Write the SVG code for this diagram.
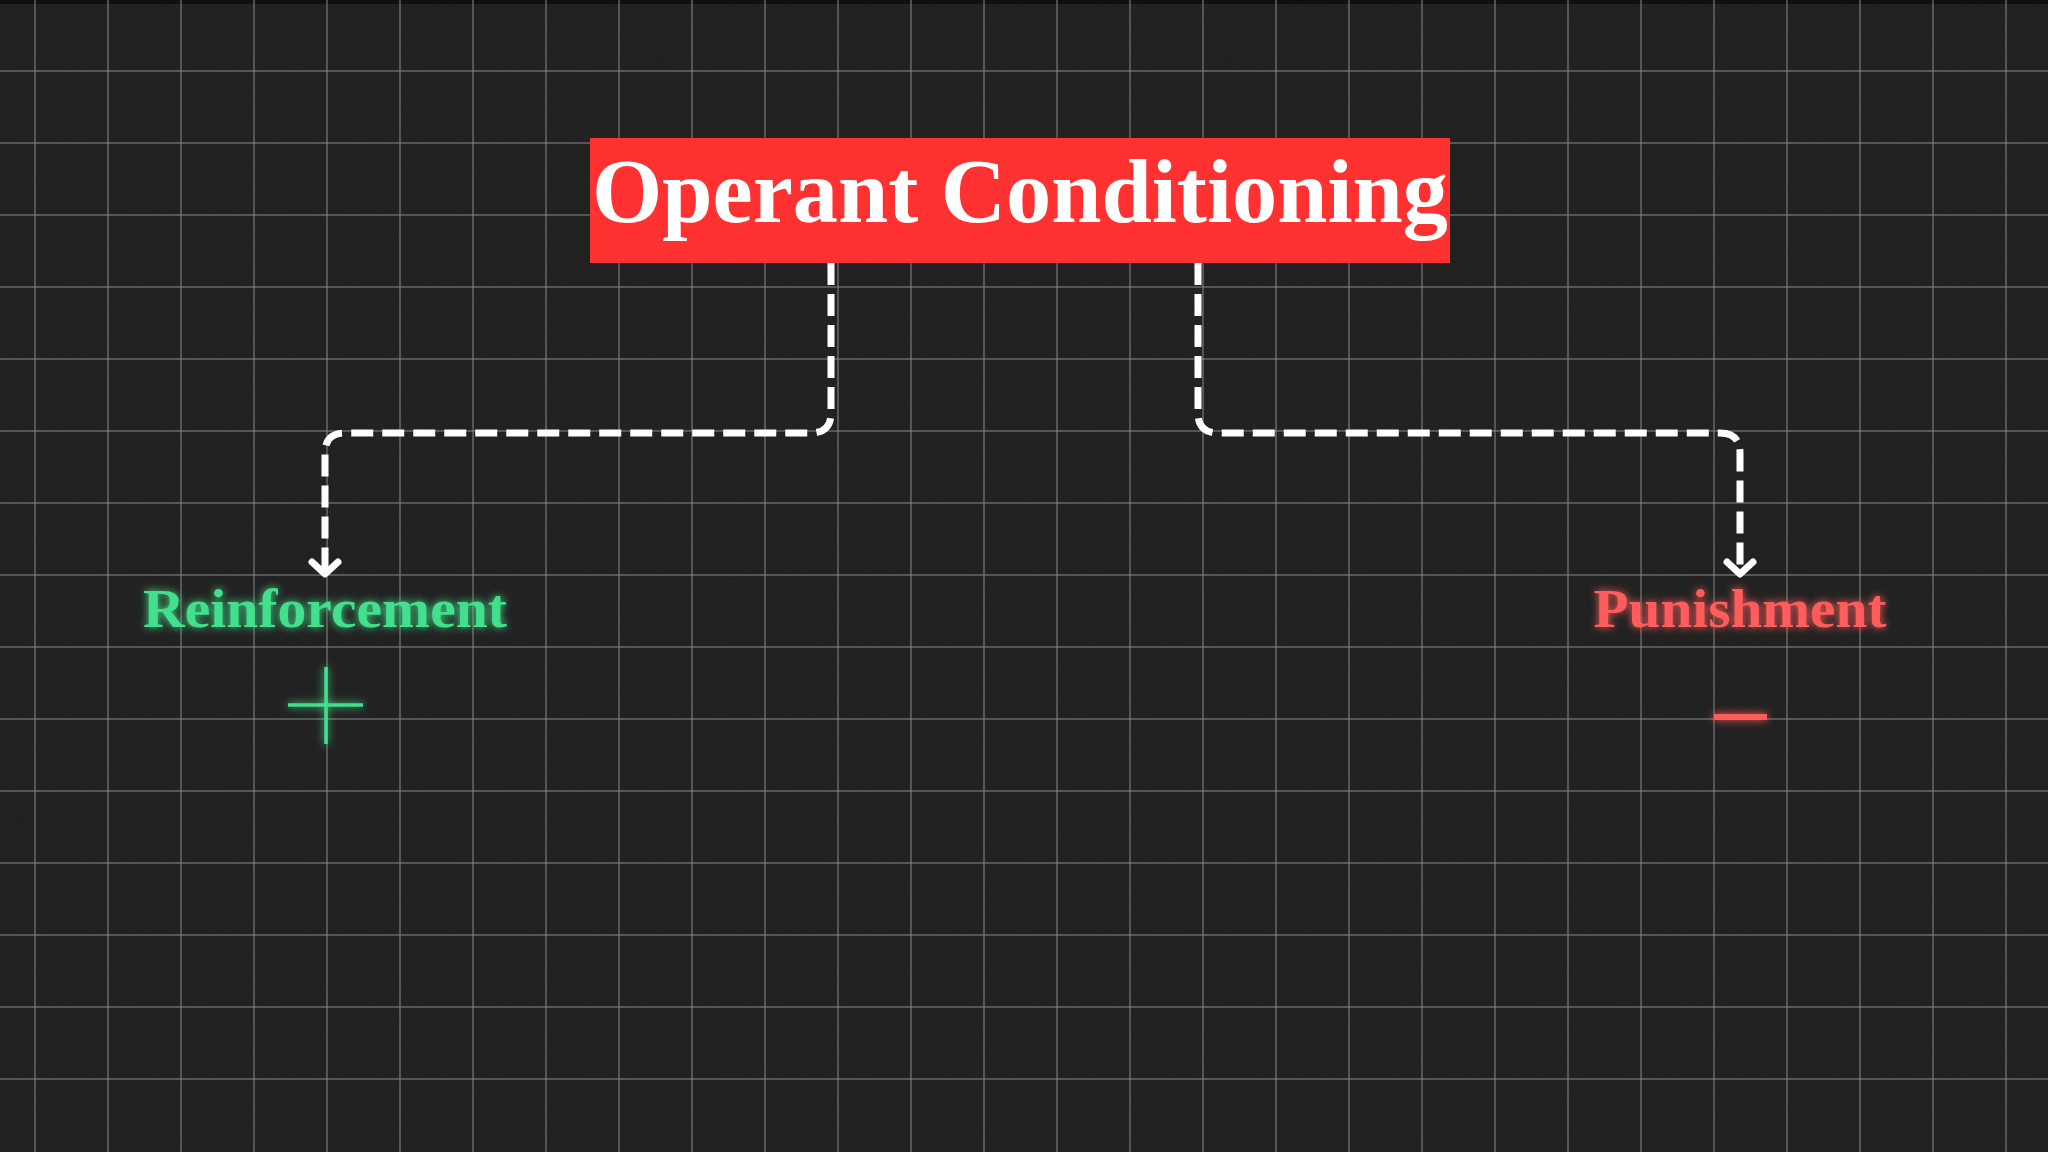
<svg xmlns="http://www.w3.org/2000/svg" width="2048" height="1152" viewBox="0 0 2048 1152">
  <defs>
    <style>
      .grid line { stroke: #8a8a8a; stroke-width: 2; opacity: 0.5; }
      .conn { fill: none; stroke: #ffffff; stroke-width: 7; stroke-dasharray: 22 9; }
      .label { font-family: "Liberation Serif", "DejaVu Serif", serif; font-weight: bold; }
    </style>
    <filter id="noise" x="0" y="0" width="100%" height="100%">
      <feTurbulence type="fractalNoise" baseFrequency="0.9" numOctaves="2" seed="3" result="t"/>
      <feColorMatrix type="matrix" values="0 0 0 0 1  0 0 0 0 1  0 0 0 0 1  0 0 0 0.05 0"/>
    </filter>
    <filter id="glow" x="-20%" y="-50%" width="140%" height="200%">
      <feGaussianBlur stdDeviation="4" result="b"/>
      <feMerge><feMergeNode in="b"/><feMergeNode in="SourceGraphic"/></feMerge>
    </filter>
    <marker id="chev" viewBox="-16 -16 32 32" refX="0" refY="0" markerWidth="32" markerHeight="32" markerUnits="userSpaceOnUse" orient="auto" overflow="visible">
      <path d="M-12,-13 L0,0 L-12,13" fill="none" stroke="#ffffff" stroke-width="7" stroke-linecap="round" stroke-linejoin="round"/>
    </marker>
  </defs>

  <rect x="0" y="0" width="2048" height="1152" fill="#1c1c1c"/>
  <rect x="0" y="0" width="2048" height="1152" filter="url(#noise)"/>
  <rect x="0" y="0" width="2048" height="4" fill="#101010"/>

  <g class="grid">
    <line x1="35" y1="0" x2="35" y2="1152"/>
    <line x1="108" y1="0" x2="108" y2="1152"/>
    <line x1="181" y1="0" x2="181" y2="1152"/>
    <line x1="254" y1="0" x2="254" y2="1152"/>
    <line x1="327" y1="0" x2="327" y2="1152"/>
    <line x1="400" y1="0" x2="400" y2="1152"/>
    <line x1="473" y1="0" x2="473" y2="1152"/>
    <line x1="546" y1="0" x2="546" y2="1152"/>
    <line x1="619" y1="0" x2="619" y2="1152"/>
    <line x1="692" y1="0" x2="692" y2="1152"/>
    <line x1="765" y1="0" x2="765" y2="1152"/>
    <line x1="838" y1="0" x2="838" y2="1152"/>
    <line x1="911" y1="0" x2="911" y2="1152"/>
    <line x1="984" y1="0" x2="984" y2="1152"/>
    <line x1="1057" y1="0" x2="1057" y2="1152"/>
    <line x1="1130" y1="0" x2="1130" y2="1152"/>
    <line x1="1203" y1="0" x2="1203" y2="1152"/>
    <line x1="1276" y1="0" x2="1276" y2="1152"/>
    <line x1="1349" y1="0" x2="1349" y2="1152"/>
    <line x1="1422" y1="0" x2="1422" y2="1152"/>
    <line x1="1495" y1="0" x2="1495" y2="1152"/>
    <line x1="1568" y1="0" x2="1568" y2="1152"/>
    <line x1="1641" y1="0" x2="1641" y2="1152"/>
    <line x1="1714" y1="0" x2="1714" y2="1152"/>
    <line x1="1787" y1="0" x2="1787" y2="1152"/>
    <line x1="1860" y1="0" x2="1860" y2="1152"/>
    <line x1="1933" y1="0" x2="1933" y2="1152"/>
    <line x1="2006" y1="0" x2="2006" y2="1152"/>
    <line x1="0" y1="71" x2="2048" y2="71"/>
    <line x1="0" y1="143" x2="2048" y2="143"/>
    <line x1="0" y1="215" x2="2048" y2="215"/>
    <line x1="0" y1="287" x2="2048" y2="287"/>
    <line x1="0" y1="359" x2="2048" y2="359"/>
    <line x1="0" y1="431" x2="2048" y2="431"/>
    <line x1="0" y1="503" x2="2048" y2="503"/>
    <line x1="0" y1="575" x2="2048" y2="575"/>
    <line x1="0" y1="647" x2="2048" y2="647"/>
    <line x1="0" y1="719" x2="2048" y2="719"/>
    <line x1="0" y1="791" x2="2048" y2="791"/>
    <line x1="0" y1="863" x2="2048" y2="863"/>
    <line x1="0" y1="935" x2="2048" y2="935"/>
    <line x1="0" y1="1007" x2="2048" y2="1007"/>
    <line x1="0" y1="1079" x2="2048" y2="1079"/>
  </g>

  <g id="connectors">
    <path class="conn" d="M831,263 V413 Q831,433 811,433 H345 Q325,433 325,453 V574" marker-end="url(#chev)"/>
    <path class="conn" d="M1198,263 V413 Q1198,433 1218,433 H1720 Q1740,433 1740,453 V574" marker-end="url(#chev)"/>
  </g>

  <g id="title">
    <rect x="590" y="138" width="860" height="125" fill="#ff3131"/>
    <text class="label" x="592" y="222" font-size="90" fill="#ffffff" textLength="856" lengthAdjust="spacingAndGlyphs">Operant Conditioning</text>
  </g>

  <g id="reinforcement" filter="url(#glow)">
    <text class="label" x="325" y="627" font-size="54" fill="#43e08c" text-anchor="middle" textLength="364" lengthAdjust="spacingAndGlyphs">Reinforcement</text>
    <line x1="326" y1="667" x2="326" y2="744" stroke="#43e08c" stroke-width="3.5"/>
    <line x1="288" y1="705" x2="363" y2="705" stroke="#43e08c" stroke-width="3.5"/>
  </g>

  <g id="punishment" filter="url(#glow)">
    <text class="label" x="1740" y="627" font-size="54" fill="#ff5c5c" text-anchor="middle" textLength="293" lengthAdjust="spacingAndGlyphs">Punishment</text>
    <line x1="1714" y1="717" x2="1767" y2="717" stroke="#ff5c5c" stroke-width="6"/>
  </g>
</svg>
